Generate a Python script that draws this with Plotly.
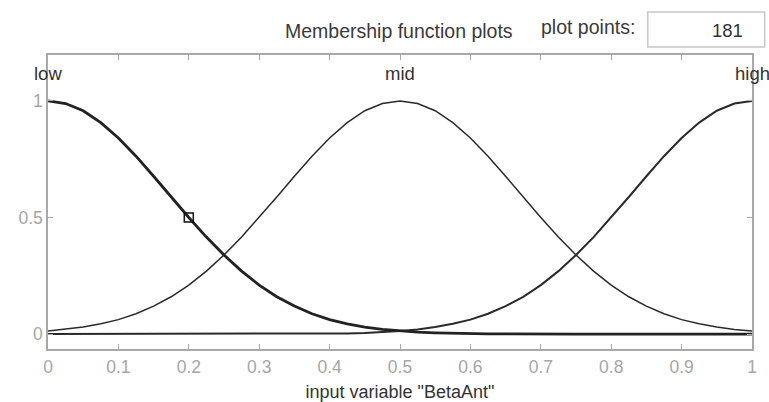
import plotly.graph_objects as go

# Membership degrees for input variable "BetaAnt", sampled every 0.025
x_vals = [round(i * 0.025, 3) for i in range(41)]

low_mf = [1.000, 0.989, 0.958, 0.907, 0.841, 0.763, 0.677, 0.588, 0.500, 0.416,
          0.339, 0.270, 0.210, 0.160, 0.120, 0.087, 0.062, 0.044, 0.030, 0.020,
          0.013, 0.008, 0.005, 0.003, 0.002, 0.001, 0.001, 0.000, 0.000, 0.000,
          0.000, 0.000, 0.000, 0.000, 0.000, 0.000, 0.000, 0.000, 0.000, 0.000,
          0.000]

mid_mf = [0.013, 0.020, 0.030, 0.044, 0.062, 0.087, 0.120, 0.160, 0.210, 0.270,
          0.339, 0.416, 0.500, 0.588, 0.677, 0.763, 0.841, 0.907, 0.958, 0.989,
          1.000, 0.989, 0.958, 0.907, 0.841, 0.763, 0.677, 0.588, 0.500, 0.416,
          0.339, 0.270, 0.210, 0.160, 0.120, 0.087, 0.062, 0.044, 0.030, 0.020,
          0.013]

high_mf = [0.000, 0.000, 0.000, 0.000, 0.000, 0.000, 0.000, 0.000, 0.000, 0.000,
           0.000, 0.000, 0.000, 0.000, 0.001, 0.001, 0.002, 0.003, 0.005, 0.008,
           0.013, 0.020, 0.030, 0.044, 0.062, 0.087, 0.120, 0.160, 0.210, 0.270,
           0.339, 0.416, 0.500, 0.588, 0.677, 0.763, 0.841, 0.907, 0.958, 0.989,
           1.000]

mf_names = ["low", "mid", "high"]
mf_centers = [0.0, 0.5, 1.0]

selected_point = (0.2, 0.5)

x_ticks = [i / 10 for i in range(11)]
x_ticktext = ["0", "0.1", "0.2", "0.3", "0.4", "0.5", "0.6", "0.7", "0.8", "0.9", "1"]
y_ticks = [0, 0.5, 1]
y_ticktext = ["0", "0.5", "1"]

plot_points = "181"

FONT = "Liberation Sans, Arial, sans-serif"

fig = go.Figure()

fig.add_trace(go.Scatter(x=x_vals, y=mid_mf, mode="lines",
                         line=dict(color="#2a2a2a", width=1.5), hoverinfo="skip"))
fig.add_trace(go.Scatter(x=x_vals, y=high_mf, mode="lines",
                         line=dict(color="#2a2a2a", width=2.0), hoverinfo="skip"))
fig.add_trace(go.Scatter(x=x_vals, y=low_mf, mode="lines",
                         line=dict(color="#222222", width=2.8), hoverinfo="skip"))
fig.add_trace(go.Scatter(x=[selected_point[0]], y=[selected_point[1]], mode="markers",
                         marker=dict(symbol="square-open", size=9, color="#111111",
                                     line=dict(width=1.5)),
                         hoverinfo="skip"))

# MF names above each curve
for name, c in zip(mf_names, mf_centers):
    fig.add_annotation(x=c, y=1.118, xref="x", yref="y", text=name, showarrow=False,
                       font=dict(family=FONT, size=18.5, color="#333333"),
                       xanchor="center", yanchor="middle")

# Header text and plot-points box
fig.add_annotation(x=0.499, y=1.082, xref="paper", yref="paper",
                   text="Membership function plots", showarrow=False,
                   font=dict(family=FONT, size=19.5, color="#3a3a3a"),
                   xanchor="center", yanchor="middle")
fig.add_annotation(x=0.767, y=1.095, xref="paper", yref="paper",
                   text="plot points:", showarrow=False,
                   font=dict(family=FONT, size=19.5, color="#3a3a3a"),
                   xanchor="center", yanchor="middle")
fig.add_shape(type="rect", xref="paper", yref="paper",
              x0=0.852, x1=1.018, y0=1.027, y1=1.146,
              line=dict(color="#c8c8c8", width=1.5), fillcolor="white")
fig.add_annotation(x=0.99, y=1.082, xref="paper", yref="paper",
                   text=plot_points, showarrow=False,
                   font=dict(family=FONT, size=18.5, color="#333333"),
                   xanchor="right", yanchor="middle")

axis_common = dict(showline=True, linecolor="#a8a8a8", linewidth=1.5, mirror="ticks",
                   ticks="inside", ticklen=5, tickwidth=1, tickcolor="#a8a8a8",
                   showgrid=False, zeroline=False, automargin=False,
                   tickfont=dict(family=FONT, size=17.5, color="#a6a6a6"))

fig.update_xaxes(range=[0, 1], tickvals=x_ticks, ticktext=x_ticktext,
                 ticklabelstandoff=1,
                 title=dict(text='input variable "BetaAnt"',
                            font=dict(family=FONT, size=18, color="#333333"),
                            standoff=10),
                 **axis_common)
fig.update_yaxes(range=[-0.064, 1.197], tickvals=y_ticks, ticktext=y_ticktext,
                 **axis_common)

fig.update_layout(width=769, height=402, showlegend=False,
                  margin=dict(l=48, r=17, t=55, b=53),
                  paper_bgcolor="white", plot_bgcolor="white")

fig.write_html("out.html")
